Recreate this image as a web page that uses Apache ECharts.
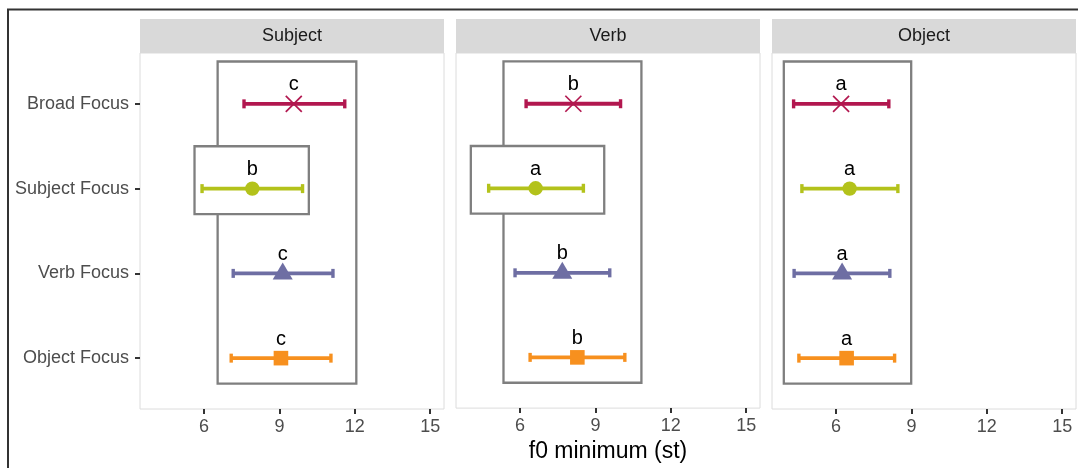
<!DOCTYPE html>
<html><head><meta charset="utf-8">
<script src="https://cdn.jsdelivr.net/npm/echarts@6/dist/echarts.min.js"></script>
<style>html,body{margin:0;padding:0;background:#fff}#c{width:1078px;height:468px}</style>
</head><body><div id="c"></div>
<script>
// ---- data ----
const categories = ['Broad Focus', 'Subject Focus', 'Verb Focus', 'Object Focus'];
const panels = ['Subject', 'Verb', 'Object'];
const xTicks = [6, 9, 12, 15];

const meanSubject = [9.57, 7.92, 9.13, 9.06];
const lowSubject  = [7.59, 5.92, 7.16, 7.08];
const highSubject = [11.60, 9.92, 11.13, 11.05];
const letterSubject = ['c', 'b', 'c', 'c'];
const boxesSubject = [[6.54, 12.06, 0.5, 4.3], [5.62, 10.17, 1.5, 2.3]];

const meanVerb = [8.12, 6.62, 7.68, 8.28];
const lowVerb  = [6.24, 4.75, 5.80, 6.40];
const highVerb = [10.00, 8.52, 9.57, 10.17];
const letterVerb = ['b', 'a', 'b', 'b'];
const boxesVerb = [[5.34, 10.83, 0.5, 4.3], [4.04, 9.35, 1.5, 2.3]];

const meanObject = [6.20, 6.54, 6.24, 6.42];
const lowObject  = [4.31, 4.64, 4.33, 4.52];
const highObject = [8.10, 8.46, 8.14, 8.33];
const letterObject = ['a', 'a', 'a', 'a'];
const boxesObject = [[3.92, 8.99, 0.5, 4.3]];

const colors = ['#b2174f', '#b3c21b', '#6e6ea3', '#f7901e'];

// ---- build ----
const FONT = '"Liberation Sans", Arial, sans-serif';
const panelData = [
  {mean: meanSubject, low: lowSubject, high: highSubject, letters: letterSubject, boxes: boxesSubject},
  {mean: meanVerb, low: lowVerb, high: highVerb, letters: letterVerb, boxes: boxesVerb},
  {mean: meanObject, low: lowObject, high: highObject, letters: letterObject, boxes: boxesObject}
];
const panelLeft = [140, 456, 772];
const PW = 304, PT = 53, PH = 356;

const grids = [], xAxes = [], yAxes = [], series = [], graphics = [];

graphics.push({type: 'rect', z: 100, silent: true,
  shape: {x: 8, y: 9.5, width: 1200, height: 600},
  style: {fill: 'none', stroke: '#333', lineWidth: 2}});

panels.forEach((name, i) => {
  grids.push({left: panelLeft[i], top: PT, width: PW, height: PH, show: true,
    borderColor: '#dcdcdc', borderWidth: 1, backgroundColor: '#fff'});
  xAxes.push({type: 'value', gridIndex: i, min: 3.45, max: 15.55,
    splitLine: {show: false}, axisLine: {show: false},
    axisTick: {show: true, customValues: xTicks, length: 5, lineStyle: {color: '#333', width: 2}},
    axisLabel: {customValues: xTicks, fontSize: 18, color: '#4d4d4d', margin: 9, fontFamily: FONT},
    name: i === 1 ? 'f0 minimum (st)' : '', nameLocation: 'middle', nameGap: 30,
    nameTextStyle: {fontSize: 23, color: '#000', fontFamily: FONT}});
  yAxes.push({type: 'value', gridIndex: i, min: 0.4, max: 4.6, inverse: true,
    splitLine: {show: false}, axisLine: {show: false},
    axisTick: {show: i === 0, customValues: [1, 2, 3, 4], length: 5, lineStyle: {color: '#333', width: 2}},
    axisLabel: {show: i === 0, customValues: [1, 2, 3, 4], fontSize: 18, color: '#4d4d4d', margin: 11,
      fontFamily: FONT, formatter: v => categories[Math.round(v) - 1] || ''}});

  graphics.push({type: 'rect', silent: true,
    shape: {x: panelLeft[i], y: 19, width: PW, height: 34}, style: {fill: '#d9d9d9'}});
  graphics.push({type: 'text', silent: true, x: panelLeft[i] + PW / 2, y: 36,
    style: {text: name, align: 'center', verticalAlign: 'middle', fontSize: 18, fill: '#1a1a1a', fontFamily: FONT}});

  const d = panelData[i];
  // boxes
  series.push({type: 'custom', xAxisIndex: i, yAxisIndex: i, z: 1, clip: false,
    data: d.boxes,
    renderItem: (params, api) => {
      const p1 = api.coord([api.value(0), api.value(2)]);
      const p2 = api.coord([api.value(1), api.value(3)]);
      return {type: 'rect', shape: {x: p1[0], y: p1[1], width: p2[0] - p1[0], height: p2[1] - p1[1]},
        style: {fill: '#fff', stroke: '#7f7f7f', lineWidth: 2.3}};
    }});
  // error bars
  series.push({type: 'custom', xAxisIndex: i, yAxisIndex: i, z: 2, clip: false,
    data: categories.map((c, k) => [d.low[k], k + 1, d.high[k]]),
    renderItem: (params, api) => {
      const y = api.value(1);
      const a = api.coord([api.value(0), y]);
      const b = api.coord([api.value(2), y]);
      const col = colors[Math.round(y) - 1];
      return {type: 'group', children: [
        {type: 'line', shape: {x1: a[0], y1: a[1], x2: b[0], y2: b[1]}, style: {stroke: col, lineWidth: 3.8}},
        {type: 'line', shape: {x1: a[0], y1: a[1] - 4.5, x2: a[0], y2: a[1] + 4.5}, style: {stroke: col, lineWidth: 3.4}},
        {type: 'line', shape: {x1: b[0], y1: b[1] - 4.5, x2: b[0], y2: b[1] + 4.5}, style: {stroke: col, lineWidth: 3.4}}
      ]};
    }});
  // points + letters
  series.push({type: 'custom', xAxisIndex: i, yAxisIndex: i, z: 3, clip: false,
    data: categories.map((c, k) => [d.mean[k], k + 1]),
    renderItem: (params, api) => {
      const k = Math.round(api.value(1)) - 1;
      const p = api.coord([api.value(0), api.value(1)]);
      const col = colors[k];
      let shape;
      if (k === 0) {
        shape = {type: 'group', children: [
          {type: 'line', shape: {x1: p[0] - 8, y1: p[1] - 8, x2: p[0] + 8, y2: p[1] + 8}, style: {stroke: col, lineWidth: 1.7}},
          {type: 'line', shape: {x1: p[0] - 8, y1: p[1] + 8, x2: p[0] + 8, y2: p[1] - 8}, style: {stroke: col, lineWidth: 1.7}}
        ]};
      } else if (k === 1) {
        shape = {type: 'circle', shape: {cx: p[0], cy: p[1], r: 7.2}, style: {fill: col}};
      } else if (k === 2) {
        shape = {type: 'polygon', shape: {points: [[p[0], p[1] - 11], [p[0] - 10, p[1] + 6], [p[0] + 10, p[1] + 6]]}, style: {fill: col}};
      } else {
        shape = {type: 'rect', shape: {x: p[0] - 7.3, y: p[1] - 7.3, width: 14.6, height: 14.6}, style: {fill: col}};
      }
      return {type: 'group', children: [shape,
        {type: 'text', style: {text: d.letters[k], x: p[0], y: p[1] - 19, align: 'center', verticalAlign: 'middle',
          fontSize: 20, fill: '#000', fontFamily: FONT}}]};
    }});
});

const chart = echarts.init(document.getElementById('c'));
chart.setOption({animation: false, backgroundColor: '#fff',
  grid: grids, xAxis: xAxes, yAxis: yAxes, series: series, graphic: graphics});
</script></body></html>
